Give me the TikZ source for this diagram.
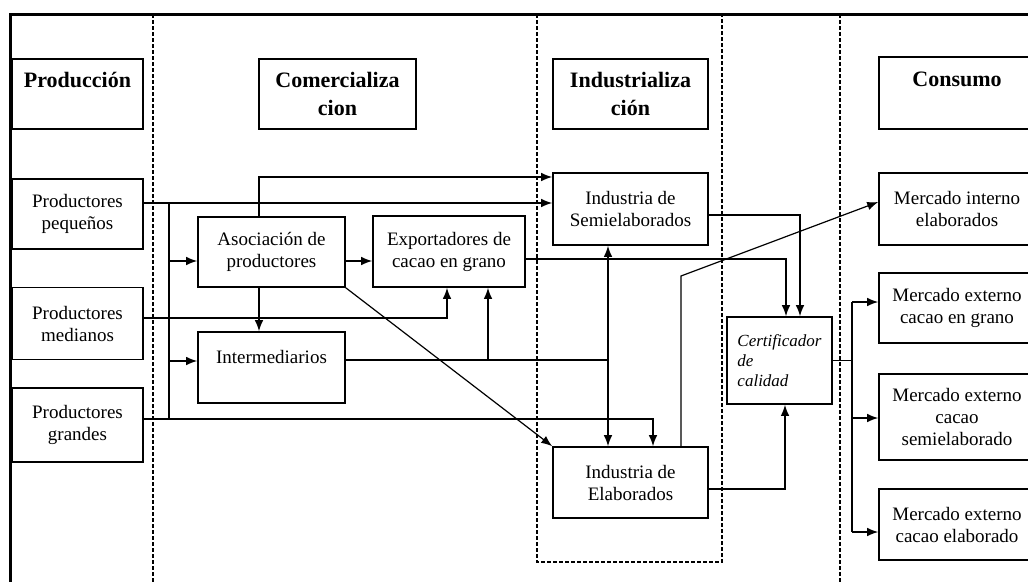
\documentclass[tikz,border=0pt]{standalone}
\usepackage{fontspec}
\setmainfont{Liberation Serif}
\usepackage{tikz}
\usetikzlibrary{arrows.meta,positioning,calc}

\begin{document}
\begin{tikzpicture}[x=1pt,y=-1pt,
	>={Latex[length=11pt,width=8.5pt]},
	caja/.style={draw,line width=1.6pt,fill=white,align=center,inner sep=0pt,
		font=\fontsize{19}{22}\selectfont},
	cabeza/.style={caja,font=\fontsize{22}{28}\selectfont\bfseries},
	flecha/.style={line width=1.2pt},
	limite/.style={line width=1.3pt,dash pattern=on 4pt off 2pt}]
				\useasboundingbox (0,0) rectangle (1028,582);
				\clip (0,0) rectangle (1028,582);
				% marco y etapas
				\draw[line width=3pt] (1028,14) -- (10,14) -- (10,582);
				\draw[limite] (153,14) -- (153,582);
				\draw[limite] (537,14) -- (537,562) -- (722,562) -- (722,14);
				\draw[limite] (840,14) -- (840,582);
				% cabeceras
				\node[cabeza,minimum width=131,minimum height=70] (hprod) at (77.5,94) {Producción\\~};
				\node[cabeza,minimum width=157,minimum height=70] (hcom) at (337.5,94) {Comercializa\\cion};
				\node[cabeza,minimum width=155,minimum height=70] (hind) at (630.5,94) {Industrializa\\ción};
				\node[cabeza,minimum width=156,minimum height=72] (hcon) at (957,93) {Consumo\\~};
				% productores
				\node[caja,minimum width=131,minimum height=70] (ppeq) at (77.5,214) {Productores\\pequeños};
				\node[caja,minimum width=131,minimum height=72] (pmed) at (77.5,323.5) {Productores\\medianos};
				\node[caja,minimum width=131,minimum height=74] (pgra) at (77.5,425) {Productores\\grandes};
				% comercializacion
				\node[caja,minimum width=147,minimum height=70] (asoc) at (271.5,252) {Asociación de\\productores};
				\node[caja,minimum width=152,minimum height=71] (expo) at (449,251.5) {Exportadores de\\cacao en grano};
				\node[caja,minimum width=147,minimum height=71] (inter) at (271.5,367.5) {Intermediarios\\~};
				% industria
				\node[caja,minimum width=155,minimum height=72] (isemi) at (630.5,209) {Industria de\\Semielaborados};
				\node[caja,minimum width=155,minimum height=71] (iela) at (630.5,482.5) {Industria de\\Elaborados};
				\node[caja,minimum width=105,minimum height=87,align=left,
					font=\fontsize{17}{20}\selectfont\itshape] (cert) at (779.5,360.5) {Certificador\\de\\calidad};
				% consumo
				\node[caja,minimum width=156,minimum height=72] (mint) at (957,209) {Mercado interno\\elaborados};
				\node[caja,minimum width=156,minimum height=70] (mgra) at (957,308) {Mercado externo\\cacao en grano};
				\node[caja,minimum width=156,minimum height=86] (msemi) at (957,417) {Mercado externo\\cacao\\semielaborado};
				\node[caja,minimum width=156,minimum height=71] (mela) at (957,524.5) {Mercado externo\\cacao elaborado};
				% flujos
				\coordinate (bus) at (169,203);
				\coordinate (xa) at (259,177);
				\coordinate (cbus) at (852,360.5);
				\draw[flecha,->] (ppeq.east |- bus) -- (isemi.west |- bus);
				\draw[flecha] (bus) -- (169,419);
				\draw[flecha,->] (bus |- 0,261) -- (asoc.west |- 0,261);
				\draw[flecha,->] (bus |- 0,361) -- (inter.west |- 0,361);
				\draw[flecha,->] (asoc.east |- 0,261) -- (expo.west |- 0,261);
				\draw[flecha,->] (xa |- asoc.north) -- (xa) -- (isemi.west |- xa);
				\draw[flecha,->] (xa |- asoc.south) -- (xa |- inter.north);
				\draw[flecha,->] (pmed.east |- 0,318) -| (expo.south -| 447,0);
				\draw[flecha] (inter.east |- 0,360) -- (608,360);
				\draw[flecha,->] (488,360) -- (expo.south -| 488,0);
				\draw[flecha,<->] (isemi.south -| 608,0) -- (iela.north -| 608,0);
				\draw[flecha,->] (pgra.east |- 0,419) -| (iela.north -| 653,0);
				\draw[flecha,->] (asoc.south east) -- (iela.north west);
				\draw[flecha,->] (expo.east |- 0,259) -| (cert.north -| 786,0);
				\draw[flecha,->] (isemi.east |- 0,215) -| (cert.north -| 800,0);
				\draw[flecha,->] (iela.north -| 681,0) -- (681,276) -- (mint.west |- 0,202);
				\draw[flecha,->] (iela.east |- 0,489) -| (cert.south -| 785,0);
				\draw[flecha] (cert.east) -- (cbus);
				\draw[flecha] (cbus |- 0,302) -- (cbus |- 0,532);
				\draw[flecha,->] (cbus |- 0,302) -- (mgra.west |- 0,302);
				\draw[flecha,->] (cbus |- 0,418) -- (msemi.west |- 0,418);
				\draw[flecha,->] (cbus |- 0,532) -- (mela.west |- 0,532);
\end{tikzpicture}
\end{document}
